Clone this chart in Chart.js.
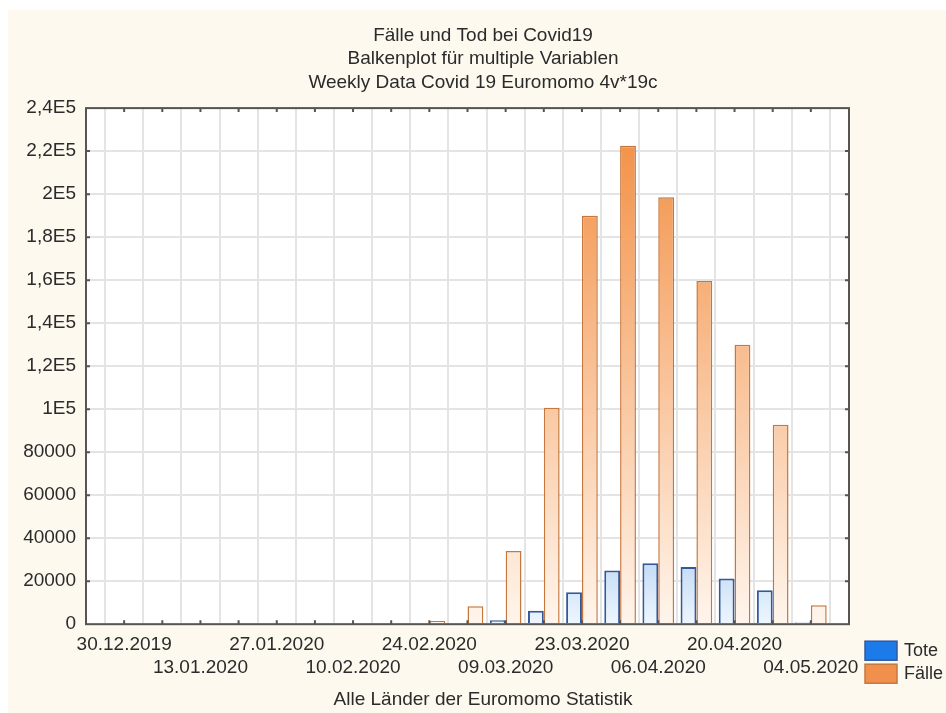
<!DOCTYPE html>
<html lang="de">
<head>
<meta charset="utf-8">
<title>Fälle und Tod bei Covid19</title>
<script src="https://cdn.jsdelivr.net/npm/chart.js@4.4.1/dist/chart.umd.min.js"></script>
<style>
    html, body { margin: 0; padding: 0; background: #ffffff; }
    #wrap { width: 946px; height: 713px; }
</style>
</head>
<body>
<div id="wrap"><canvas id="chart" width="946" height="713"></canvas></div>
<script>
// Weekly Data Covid 19, Euromomo (alle Länder)
const weeks = [
    '30.12.2019', '06.01.2020', '13.01.2020', '20.01.2020', '27.01.2020',
    '03.02.2020', '10.02.2020', '17.02.2020', '24.02.2020', '02.03.2020',
    '09.03.2020', '16.03.2020', '23.03.2020', '30.03.2020', '06.04.2020',
    '13.04.2020', '20.04.2020', '27.04.2020', '04.05.2020',
];
const tote = [0, 0, 0, 0, 0, 0, 0, 0, 0, 0, 1800, 6200, 14800, 25000, 28300, 26600, 21200, 15800, 800];
const faelle = [0, 0, 0, 0, 0, 0, 0, 0, 1500, 8400, 34000, 100700, 190000, 222500, 198600, 159600, 129900, 92800, 8800];
const yTickLabels = ['0', '20000', '40000', '60000', '80000', '1E5', '1,2E5', '1,4E5', '1,6E5', '1,8E5', '2E5', '2,2E5', '2,4E5'];

const colors = {
    text: '#2b2b2b',
    frame: '#555555',
    grid: '#e4e4e4',
    cream: '#fdf9ef',
    toteLegend: '#1c7be9',
    toteBorder: '#33599c',
    faelleLegend: '#f0904c',
    faelleBorder: '#c5773d',
};
const FONT = "'Liberation Sans', Arial, sans-serif";

// vertical gradient from the tallest bar of a series down to the baseline
function barGradient(context, values, topColor, bottomColor) {
    const chart = context.chart;
    const y = chart.scales.y;
    if (!chart.chartArea || !y) return topColor;
    const top = y.getPixelForValue(Math.max(...values));
    const bottom = y.getPixelForValue(0);
    const g = chart.ctx.createLinearGradient(0, top, 0, bottom);
    g.addColorStop(0, topColor);
    g.addColorStop(1, bottomColor);
    return g;
}

// cream page, white plot area
const backgroundPlugin = {
    id: 'background',
    beforeDraw(chart) {
        const { ctx, chartArea } = chart;
        ctx.save();
        ctx.fillStyle = '#ffffff';
        ctx.fillRect(0, 0, chart.width, chart.height);
        ctx.fillStyle = colors.cream;
        ctx.fillRect(8, 10, chart.width - 8, chart.height - 10);
        ctx.fillStyle = '#ffffff';
        ctx.fillRect(chartArea.left, chartArea.top, chartArea.right - chartArea.left, chartArea.bottom - chartArea.top);
        ctx.restore();
    },
};

// frame with small inner tick marks on all four sides
const framePlugin = {
    id: 'frame',
    afterDatasetsDraw(chart) {
        const { ctx, chartArea, scales } = chart;
        const { left, right, top, bottom } = chartArea;
        ctx.save();
        ctx.strokeStyle = colors.frame;
        ctx.lineWidth = 2;
        ctx.beginPath();
        scales.x.ticks.forEach((t) => {
            if (t.value <= 0 || t.value >= 20) return;
            const px = scales.x.getPixelForValue(t.value);
            ctx.moveTo(px, bottom);
            ctx.lineTo(px, bottom - 4);
            ctx.moveTo(px, top);
            ctx.lineTo(px, top + 4);
        });
        scales.y.ticks.forEach((t) => {
            if (t.value <= 0 || t.value >= 240000) return;
            const py = scales.y.getPixelForValue(t.value);
            ctx.moveTo(left, py);
            ctx.lineTo(left + 4, py);
            ctx.moveTo(right, py);
            ctx.lineTo(right - 4, py);
        });
        ctx.stroke();
        ctx.strokeRect(left, top, right - left, bottom - top);
        ctx.restore();
    },
};

// legend boxes below the right end of the plot
const legendPlugin = {
    id: 'boxLegend',
    afterDraw(chart) {
        const { ctx, chartArea } = chart;
        const x = chartArea.right + 16;
        let y = chartArea.bottom + 17;
        ctx.save();
        ctx.font = '18px ' + FONT;
        ctx.textBaseline = 'middle';
        ctx.textAlign = 'left';
        chart.data.datasets.forEach((ds) => {
            ctx.fillStyle = ds.legendColor;
            ctx.fillRect(x, y, 32, 19);
            ctx.strokeStyle = ds.borderColor;
            ctx.lineWidth = 1.5;
            ctx.strokeRect(x, y, 32, 19);
            ctx.fillStyle = colors.text;
            ctx.fillText(ds.label, x + 39, y + 10);
            y += 23;
        });
        ctx.restore();
    },
};

function xLabel(value) {
    const i = Math.round(value) - 1;
    if (i < 0 || i >= weeks.length || i % 2 !== 0) return '';
    return i % 4 === 0 ? weeks[i] : ['', weeks[i]];
}

new Chart(document.getElementById('chart'), {
    type: 'bar',
    data: {
        datasets: [
            {
                label: 'Tote',
                data: tote.map((v, i) => ({ x: i + 1, y: v })),
                backgroundColor: (c) => barGradient(c, tote, '#c4dcf6', '#eef6fd'),
                borderColor: colors.toteBorder,
                legendColor: colors.toteLegend,
                borderWidth: 2,
                yAxisID: 'y',
            },
            {
                label: 'Fälle',
                data: faelle.map((v, i) => ({ x: i + 1, y: v })),
                backgroundColor: (c) => barGradient(c, faelle, '#f3934a', '#fff5ec'),
                borderColor: colors.faelleBorder,
                legendColor: colors.faelleLegend,
                borderWidth: 1.5,
                yAxisID: 'y',
            },
        ],
    },
    options: {
        responsive: false,
        animation: false,
        categoryPercentage: 0.83,
        barPercentage: 1.0,
        layout: { padding: { left: 20, right: 0, top: 0, bottom: 0 } },
        plugins: {
            legend: { display: false },
            title: {
                display: true,
                text: [
                    'Fälle und Tod bei Covid19',
                    'Balkenplot für multiple Variablen',
                    'Weekly Data Covid 19 Euromomo 4v*19c',
                ],
                color: colors.text,
                font: { family: FONT, size: 19, weight: 'normal', lineHeight: 1.23 },
                padding: { top: 24, bottom: 14 },
            },
            subtitle: {
                display: true,
                position: 'bottom',
                text: 'Alle Länder der Euromomo Statistik',
                color: colors.text,
                font: { family: FONT, size: 19, weight: 'normal', lineHeight: 1.2 },
                padding: { top: 9, bottom: 2 },
            },
        },
        scales: {
            x: {
                type: 'linear',
                min: 0,
                max: 20,
                offset: false,
                grid: { color: colors.grid, lineWidth: 2, drawTicks: false },
                border: { display: false },
                ticks: {
                    stepSize: 1,
                    autoSkip: false,
                    maxRotation: 0,
                    minRotation: 0,
                    padding: 9,
                    color: colors.text,
                    font: { family: FONT, size: 19, lineHeight: 1.2 },
                    callback: xLabel,
                },
                afterFit: (scale) => { scale.height = 55; },
            },
            y: {
                min: 0,
                max: 240000,
                grid: { color: colors.grid, lineWidth: 2, drawTicks: false },
                border: { display: false },
                ticks: {
                    stepSize: 20000,
                    padding: 10,
                    color: colors.text,
                    font: { family: FONT, size: 19 },
                    callback: (v) => yTickLabels[Math.round(v / 20000)],
                },
                afterFit: (scale) => { scale.width = 66; },
            },
            // spacer on the right for the legend column
            yRight: {
                position: 'right',
                min: 0,
                max: 240000,
                grid: { display: false },
                border: { display: false },
                ticks: { display: false },
                afterFit: (scale) => { scale.width = 97; },
            },
        },
    },
    plugins: [backgroundPlugin, framePlugin, legendPlugin],
});
</script>
</body>
</html>
